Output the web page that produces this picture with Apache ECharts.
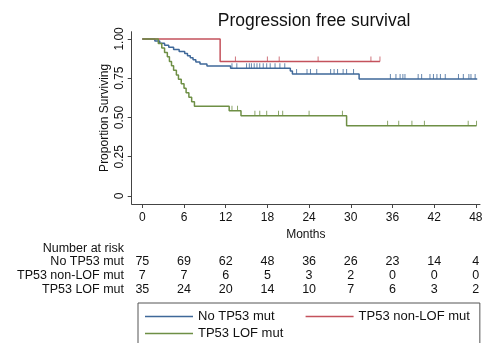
<!DOCTYPE html>
<html>
<head>
<meta charset="utf-8">
<script src="https://cdn.jsdelivr.net/npm/echarts@6/dist/echarts.min.js"></script>
<style>html,body{margin:0;padding:0;background:#fff}#c{width:490px;height:343px}</style>
</head>
<body>
<div id="c"></div>
<script>
// ---- data ----
var titleText = 'Progression free survival';
var groupNames = ['No TP53 mut', 'TP53 non-LOF mut', 'TP53 LOF mut'];
var xTicks = [0, 6, 12, 18, 24, 30, 36, 42, 48];
var yTicks = [0, 0.25, 0.5, 0.75, 1];

// step times (months) and survival after each step
var noMutTimes  = [0, 1.8, 2.5, 3.2, 3.8, 4.5, 5.3, 6.1, 6.5, 6.9, 7.3, 7.7, 8.3, 9.3, 12.7, 21.3, 21.6, 31.2, 48.2];
var noMutSurv   = [1, 0.987, 0.973, 0.960, 0.947, 0.933, 0.920, 0.907, 0.893, 0.880, 0.867, 0.853, 0.840, 0.827, 0.813, 0.795, 0.777, 0.745, 0.745];
var noMutCens   = [12.9, 13.6, 15.0, 15.4, 15.7, 16.1, 16.5, 16.9, 17.4, 17.9, 18.4, 19.1, 19.8, 20.5, 22.2, 23.7, 24.2, 25.1, 27.1, 27.6, 28.1, 28.9, 29.4, 30.4, 35.7, 36.5, 37.1, 37.5, 37.8, 39.7, 40.2, 41.4, 41.9, 42.4, 42.9, 43.6, 45.5, 46.2, 47.0, 47.3, 47.9];

var nonLofTimes = [0, 11.2, 34.2];
var nonLofSurv  = [1, 0.857, 0.857];
var nonLofCens  = [13.4, 18.0, 19.7, 25.3, 32.9, 34.2];

var lofTimes = [0, 2.3, 2.8, 3.2, 3.6, 3.9, 4.2, 4.5, 4.9, 5.2, 5.6, 6.0, 6.3, 6.7, 7.1, 7.5, 12.5, 14.2, 29.4, 48.1];
var lofSurv  = [1, 0.971, 0.943, 0.914, 0.886, 0.857, 0.829, 0.800, 0.771, 0.743, 0.714, 0.686, 0.657, 0.629, 0.600, 0.571, 0.543, 0.511, 0.447, 0.447];
var lofCens  = [12.9, 13.7, 16.2, 16.9, 17.9, 19.6, 20.2, 24.0, 28.8, 35.3, 36.9, 38.8, 40.6, 46.9, 48.1];

// number at risk
var riskNoMut  = [75, 69, 62, 48, 36, 26, 23, 14, 4];
var riskNonLof = [7, 7, 6, 5, 3, 2, 0, 0, 0];
var riskLof    = [35, 24, 20, 14, 10, 7, 6, 3, 2];

var colors = ['#3f6899', '#c4525c', '#6e8f45'];
var FONT = 'Liberation Sans, Arial, sans-serif';

function steps(times, surv) {
  return times.map(function (t, i) { return [t, surv[i]]; });
}
function survAt(times, surv, t) {
  var v = surv[0];
  for (var i = 0; i < times.length; i++) { if (times[i] <= t) v = surv[i]; }
  return v;
}
function cens(times, surv, c) {
  return c.map(function (t) { return [t, survAt(times, surv, t)]; });
}

var groups = [
  {name: groupNames[0], times: noMutTimes, surv: noMutSurv, cens: noMutCens, risk: riskNoMut},
  {name: groupNames[1], times: nonLofTimes, surv: nonLofSurv, cens: nonLofCens, risk: riskNonLof},
  {name: groupNames[2], times: lofTimes, surv: lofSurv, cens: lofCens, risk: riskLof}
];

var series = [];
groups.forEach(function (g, i) {
  series.push({
    name: g.name, type: 'line', step: 'end', symbol: 'none', showSymbol: false,
    data: steps(g.times, g.surv),
    lineStyle: {color: colors[i], width: 1.5},
    itemStyle: {color: colors[i]},
    z: 3 + i
  });
});
groups.forEach(function (g, i) {
  series.push({
    name: g.name + ' censored', type: 'scatter',
    data: cens(g.times, g.surv, g.cens),
    symbol: 'rect', symbolSize: [1, 5], symbolOffset: [0, -2.5],
    itemStyle: {color: colors[i]},
    silent: true, z: 6
  });
});

var chart = echarts.init(document.getElementById('c'), null, {renderer: 'canvas'});
var axisColor = '#444';
var legendText = {fontSize: 13, color: '#111', fontFamily: FONT};
chart.setOption({
  animation: false,
  backgroundColor: '#fff',
  textStyle: {fontFamily: FONT},
  title: {
    text: titleText, left: 309, top: 7, textAlign: 'center',
    textStyle: {fontSize: 17.5, fontWeight: 'normal', color: '#111', fontFamily: FONT}
  },
  grid: {left: 131.7, right: 10, top: 31.7, bottom: 139, containLabel: false},
  xAxis: {
    type: 'value', min: -1.53, max: 48.6,
    name: 'Months', nameLocation: 'middle', nameGap: 25, nameMoveOverlap: false,
    nameTextStyle: {fontSize: 12, color: '#111', fontFamily: FONT},
    axisLine: {show: true, onZero: false, lineStyle: {color: axisColor, width: 1}},
    axisTick: {show: true, length: 4, lineStyle: {color: axisColor}, customValues: xTicks},
    axisLabel: {customValues: xTicks, fontSize: 12, color: '#111', margin: 8, fontFamily: FONT},
    splitLine: {show: false}
  },
  yAxis: {
    type: 'value', min: -0.051, max: 1.046,
    name: 'Proportion Surviving', nameLocation: 'middle', nameRotate: 90, nameGap: 21, nameMoveOverlap: false,
    nameTextStyle: {fontSize: 12, color: '#111', fontFamily: FONT},
    axisLine: {show: true, onZero: false, lineStyle: {color: axisColor, width: 1}},
    axisTick: {show: true, length: 4, lineStyle: {color: axisColor}, customValues: yTicks},
    axisLabel: {
      customValues: yTicks, rotate: 90, fontSize: 12, color: '#111', margin: 6, fontFamily: FONT,
      formatter: function (v) { return v === 0 ? '0' : v.toFixed(2); }
    },
    splitLine: {show: false}
  },
  legend: [{
    data: [groupNames[0], groupNames[1]],
    left: 138, top: 303, width: 330,
    padding: [7, 10, 26, 7],
    icon: 'rect', itemWidth: 48, itemHeight: 1.5, itemGap: 31,
    borderColor: '#555', borderWidth: 1,
    textStyle: legendText
  }, {
    data: [groupNames[2]],
    left: 145, top: 327, padding: 0,
    icon: 'rect', itemWidth: 48, itemHeight: 1.5,
    textStyle: legendText
  }],
  series: series
});

// number-at-risk table, positioned through the x scale
var graphics = [];
var labelRight = 124;
var tblFont = 12.5;
graphics.push({type: 'text', x: labelRight, y: 249, style: {text: 'Number at risk', fontSize: tblFont, fontFamily: FONT, fill: '#111', align: 'right', verticalAlign: 'middle'}});
var rowY = [262, 276, 290];
groups.forEach(function (g, r) {
  graphics.push({type: 'text', x: labelRight, y: rowY[r], style: {text: g.name, fontSize: tblFont, fontFamily: FONT, fill: '#111', align: 'right', verticalAlign: 'middle'}});
  xTicks.forEach(function (t, k) {
    var px = chart.convertToPixel({xAxisIndex: 0}, t);
    graphics.push({type: 'text', x: px, y: rowY[r], style: {text: String(g.risk[k]), fontSize: tblFont, fontFamily: FONT, fill: '#111', align: 'center', verticalAlign: 'middle'}});
  });
});
chart.setOption({graphic: graphics});
</script>
</body>
</html>
